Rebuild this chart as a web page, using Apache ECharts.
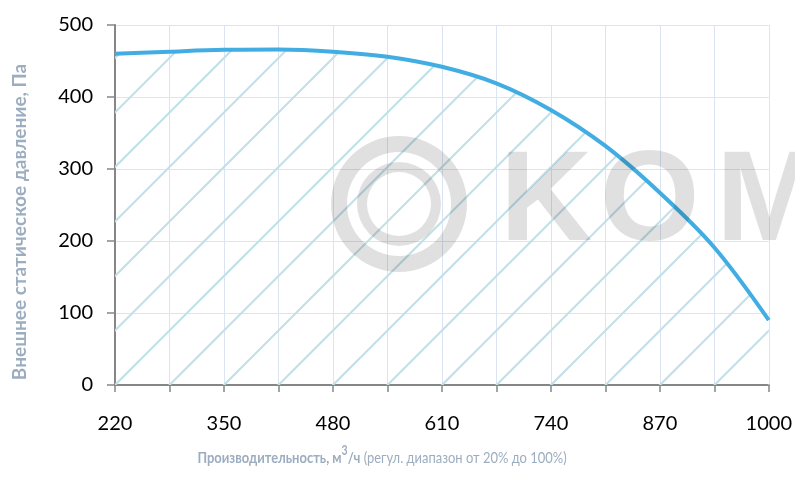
<!DOCTYPE html>
<html>
<head>
<meta charset="utf-8">
<script src="https://cdn.jsdelivr.net/npm/echarts@6/dist/echarts.min.js"></script>
<style>
html,body{margin:0;padding:0;background:#fff;}
#chart{width:795px;height:485px;}
</style>
</head>
<body>
<div id="chart"></div>
<script>
// ---- data ----
const flowValues = [220, 285, 350, 415, 480, 545, 610, 675, 740, 805, 870, 935, 1000];
const pressureValues = [460, 463, 465.5, 466, 463, 456, 442, 419, 382, 332, 267, 191, 90];
const xTickLabels = [220, 350, 480, 610, 740, 870, 1000];
const yTickLabels = [0, 100, 200, 300, 400, 500];
const yTitle = 'Внешнее статическое давление, Па';
const xTitleBold = 'Производительность, м';
const xTitleSup = '3';
const xTitleUnit = '/ч';
const xTitleNote = ' (регул. диапазон от 20% до 100%)';
const watermarkLetters = ['K', 'O', 'M'];

// hatch pattern (wide upward diagonal)
function makeHatch() {
  const size = 109, step = 54.5, off = 9.5;
  const c = document.createElement('canvas');
  c.width = size; c.height = size;
  const g = c.getContext('2d');
  g.strokeStyle = '#c0dfe8';
  g.lineWidth = 2;
  for (let k = -4; k <= 8; k++) {
    const s = off + step * k;
    g.beginPath();
    g.moveTo(-20, s + 20);
    g.lineTo(s + 20, -20);
    g.stroke();
  }
  return c;
}

const chart = echarts.init(document.getElementById('chart'), null, {renderer: 'canvas'});
const axisGrey = '#868686';
const gridColor = '#dbe5f1';
const titleColor = '#9cadc0';
const wmColor = 'rgba(0,0,0,0.12)';
const FONT = 'Lato, "Open Sans", sans-serif';
const WMFONT = 'bold 128px "Liberation Sans", Arial, sans-serif';

const option = {
  animation: false,
  backgroundColor: '#ffffff',
  grid: {left: 115, right: 26, top: 25, bottom: 100, containLabel: false},
  xAxis: {
    type: 'value',
    min: xTickLabels[0],
    max: xTickLabels[xTickLabels.length - 1],
    interval: xTickLabels[1] - xTickLabels[0],
    axisLine: {show: true, lineStyle: {color: axisGrey, width: 2}},
    axisTick: {show: true, length: 7, lineStyle: {color: axisGrey, width: 1.5}},
    minorTick: {show: true, splitNumber: 2, length: 7, lineStyle: {color: axisGrey, width: 1.5}},
    axisLabel: {color: '#000', fontSize: 20, fontFamily: FONT, margin: 29, formatter: v => String(v)},
    splitLine: {show: true, lineStyle: {color: gridColor, width: 1}},
    minorSplitLine: {show: true, lineStyle: {color: gridColor, width: 1}}
  },
  yAxis: {
    type: 'value',
    min: yTickLabels[0],
    max: yTickLabels[yTickLabels.length - 1],
    interval: yTickLabels[1] - yTickLabels[0],
    axisLine: {show: true, lineStyle: {color: axisGrey, width: 2}},
    axisTick: {show: true, length: 8, lineStyle: {color: axisGrey, width: 1.5}},
    axisLabel: {color: '#000', fontSize: 20, fontFamily: FONT, margin: 22, formatter: v => String(v)},
    splitLine: {show: true, lineStyle: {color: gridColor, width: 1}}
  },
  series: [{
    type: 'line',
    data: flowValues.map((x, i) => [x, pressureValues[i]]),
    smooth: 0.35,
    showSymbol: false,
    symbol: 'none',
    lineStyle: {color: '#41ade2', width: 4},
    itemStyle: {color: '#41ade2'},
    areaStyle: {color: {image: makeHatch(), repeat: 'repeat'}, opacity: 1},
    z: 3
  }],
  graphic: [
    {
      type: 'text', x: 20, y: 222, rotation: Math.PI / 2,
      style: {text: yTitle, font: 'bold 19px ' + FONT, fill: titleColor, align: 'center', verticalAlign: 'middle'}
    },
    {
      type: 'text', x: 382, y: 455, scaleX: 0.81,
      style: {
        text: '{b|' + xTitleBold + '}{s|' + xTitleSup + '}{b|' + xTitleUnit + '}{r|' + xTitleNote + '}',
        align: 'center', verticalAlign: 'middle',
        rich: {
          b: {font: 'bold 16px ' + FONT, fill: titleColor, lineHeight: 22, verticalAlign: 'bottom'},
          s: {font: 'bold 13px ' + FONT, fill: titleColor, lineHeight: 22, verticalAlign: 'top'},
          r: {font: '16px ' + FONT, fill: titleColor, lineHeight: 22, verticalAlign: 'bottom'}
        }
      }
    },
    // watermark (drawn over the plot, semi-transparent)
    {type: 'ring', z: 100, shape: {cx: 399, cy: 204, r: 68, r0: 52}, style: {fill: wmColor}},
    {type: 'ring', z: 100, shape: {cx: 399, cy: 204, r: 42, r0: 32}, style: {fill: wmColor}},
    {type: 'text', z: 100, x: 500, y: 205, style: {text: watermarkLetters[0], font: WMFONT, fill: wmColor, align: 'left', verticalAlign: 'middle'}},
    {type: 'text', z: 100, x: 600, y: 205, style: {text: watermarkLetters[1], font: WMFONT, fill: wmColor, align: 'left', verticalAlign: 'middle'}},
    {type: 'text', z: 100, x: 716, y: 205, style: {text: watermarkLetters[2], font: WMFONT, fill: wmColor, align: 'left', verticalAlign: 'middle'}}
  ]
};
chart.setOption(option);
</script>
</body>
</html>
